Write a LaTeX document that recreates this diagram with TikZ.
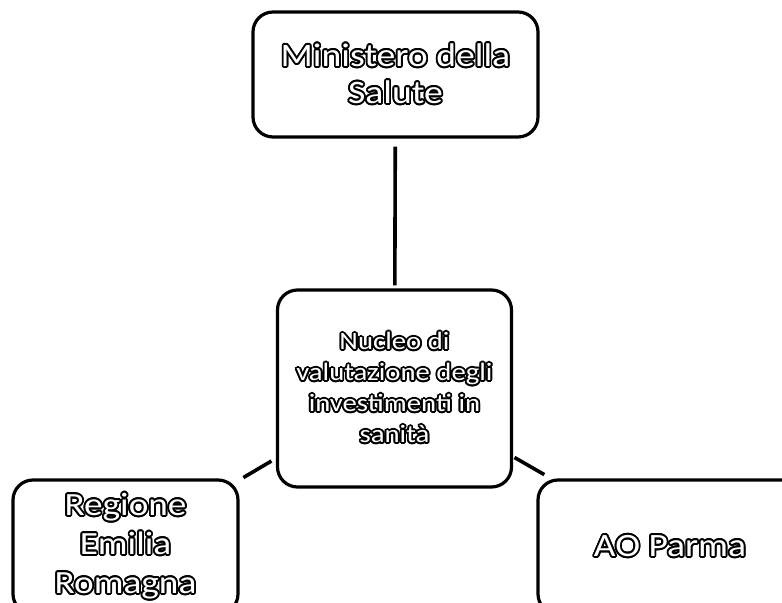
\documentclass[tikz,border=0pt]{standalone}
\usepackage{fontspec}
\setmainfont{Carlito}[FakeStretch=1.15]
\usepackage{contour}
\contourlength{0.9pt}
\newcommand{\outl}[1]{\contour{black}{\textcolor{white}{#1}}}
\tikzset{
  unit/.style={draw,line width=1.6pt,rounded corners=10pt,align=center,inner sep=0pt},
  link/.style={line width=1.8pt},
}

\begin{document}
\begin{tikzpicture}[x=0.5pt,y=-0.5pt]
\useasboundingbox (0,0) rectangle (782,603);
\clip (0,0) rectangle (782,603);

\node[unit,minimum width=142.5pt,minimum height=62.5pt,font=\fontsize{16.4}{18.5}\selectfont]
  (ministero) at (395.5,74.5) {\outl{Ministero della}\\\outl{Salute}};

\node[unit,minimum width=117pt,minimum height=98.5pt,font=\fontsize{12.5}{15.5}\selectfont]
  (nucleo) at (394.5,388.5) {\outl{Nucleo di}\\\outl{valutazione degli}\\\outl{investimenti in}\\\outl{sanità}};

\node[unit,minimum width=112.5pt,minimum height=67pt,font=\fontsize{16.2}{19.5}\selectfont]
  (regione) at (125.5,547) {\outl{Regione}\\\outl{Emilia}\\\outl{Romagna}};

\node[unit,minimum width=132pt,minimum height=67pt,font=\fontsize{16.3}{19.5}\selectfont]
  (parma) at (670,547) {\outl{AO Parma}};

\draw[link,shorten <=4pt,shorten >=1.5pt] (ministero) -- (nucleo);
\draw[link,shorten <=2.6pt,shorten >=2.2pt] (nucleo) -- (regione);
\draw[link,shorten <=0.8pt,shorten >=3.8pt] (nucleo) -- (parma);

\end{tikzpicture}
\end{document}
